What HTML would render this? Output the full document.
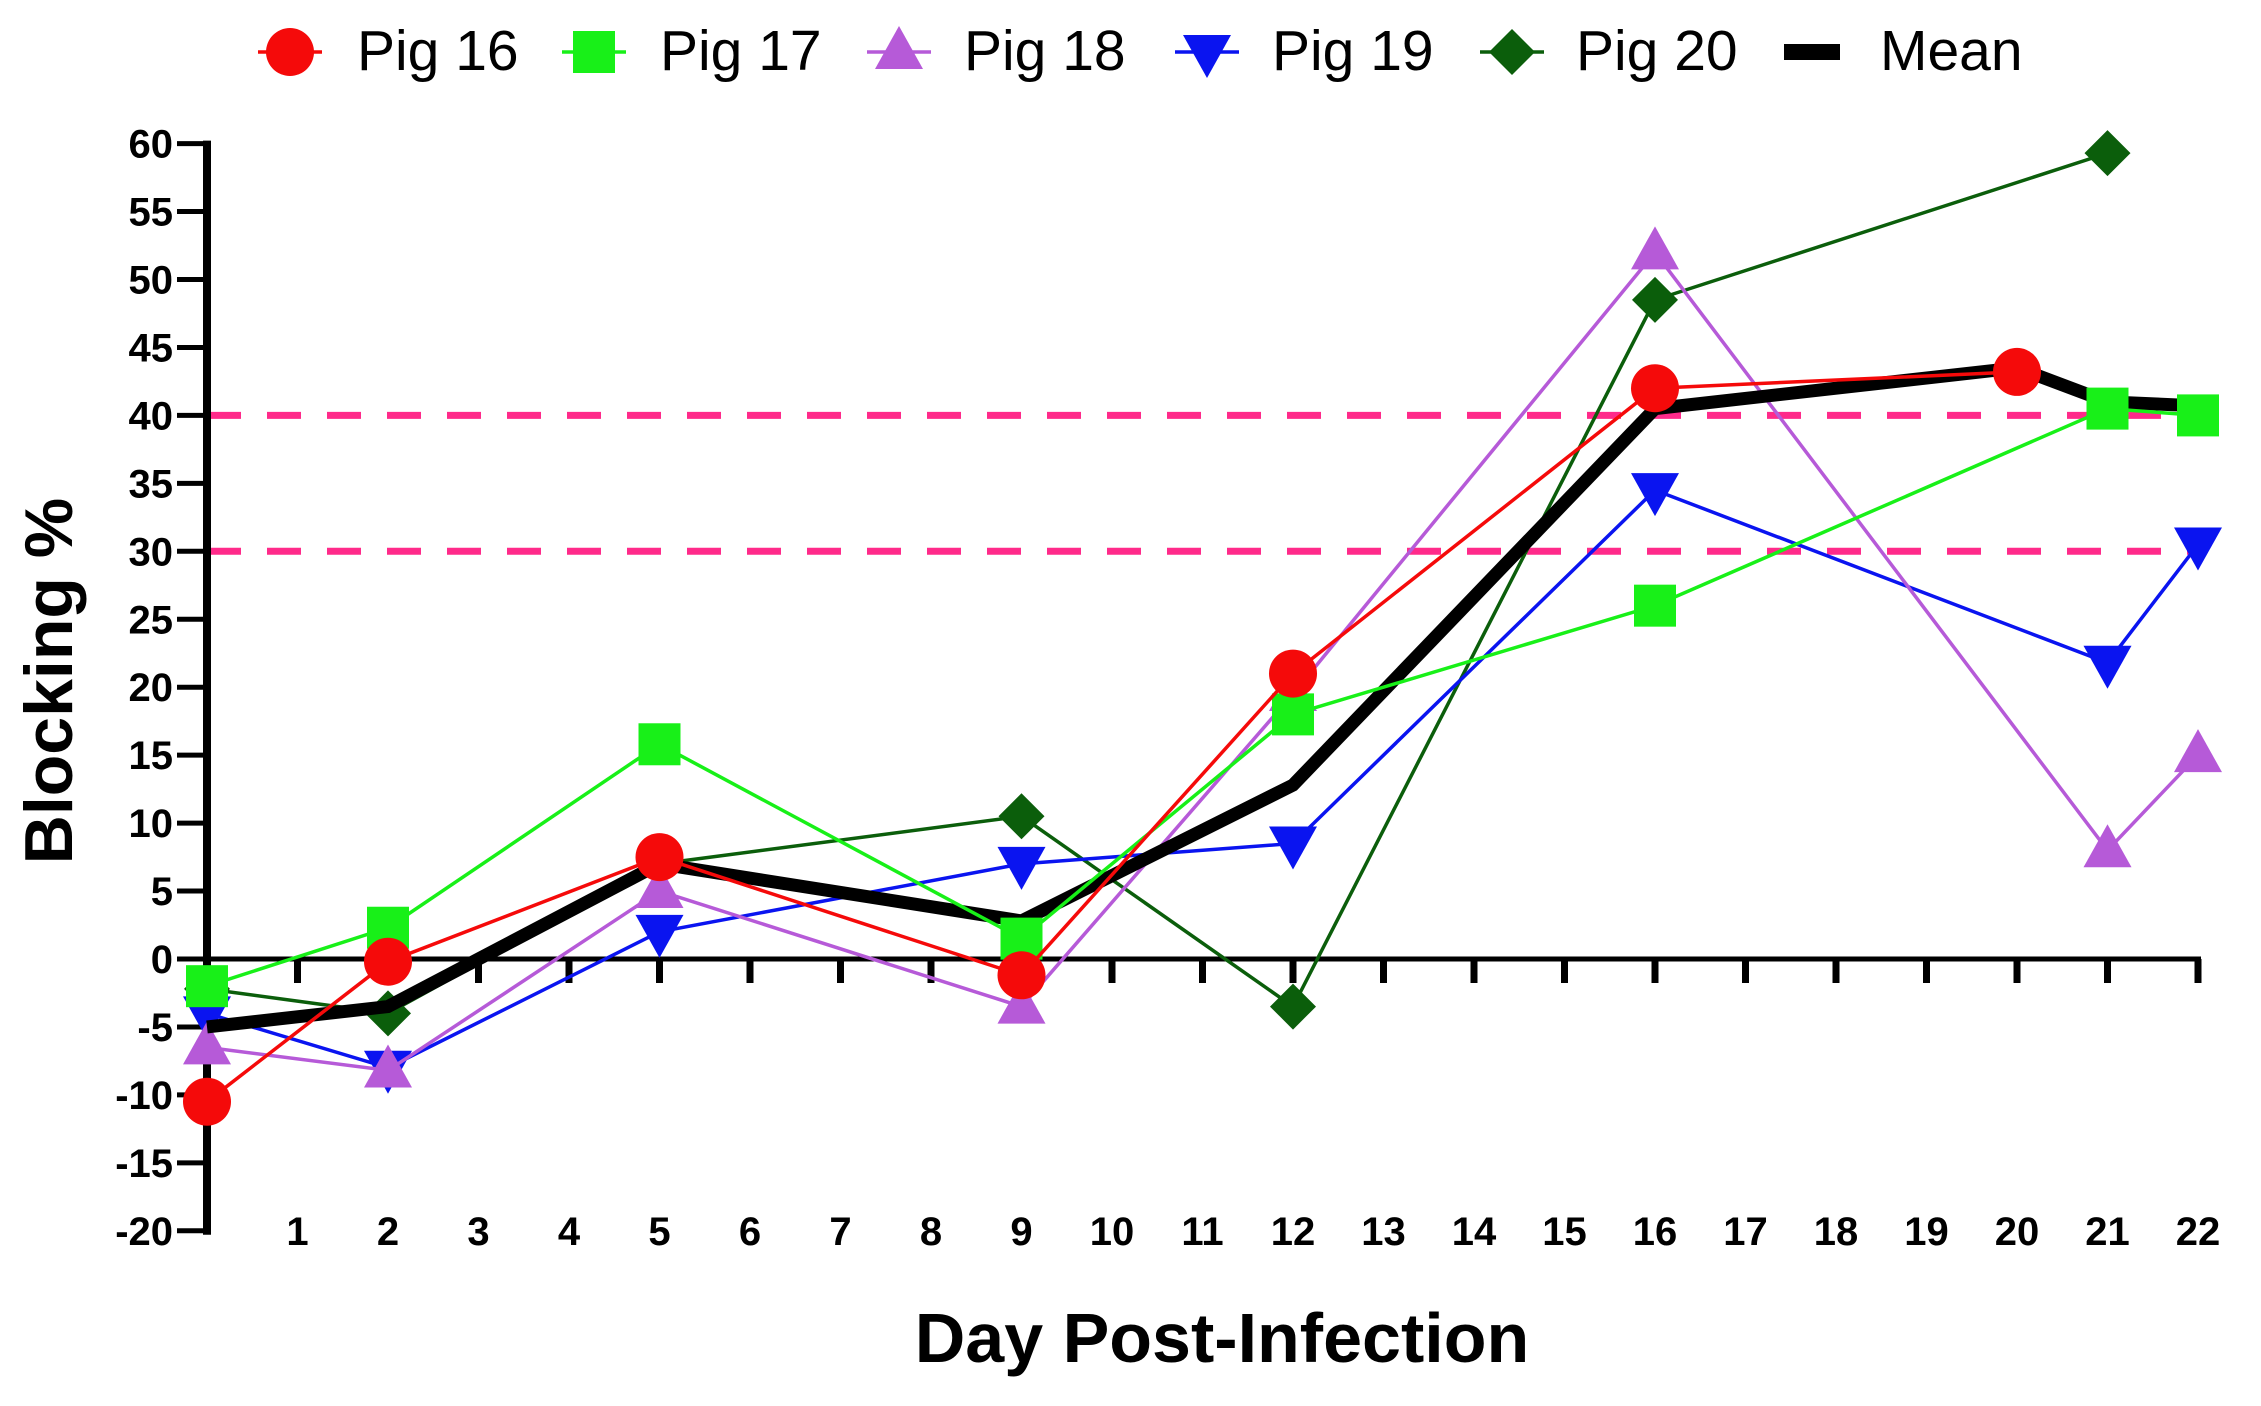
<!DOCTYPE html>
<html><head><meta charset="utf-8"><style>
html,body{margin:0;padding:0;background:#fff;}
svg{display:block;font-family:"Liberation Sans",Arial,sans-serif;}
</style></head><body>
<svg id="chart" width="2261" height="1406" viewBox="0 0 2261 1406"></svg>
<script>
const days=[0,1,2,3,4,5,6,7,8,9,10,11,12,13,14,15,16,17,18,19,20,21,22];
const yTicks=[60,55,50,45,40,35,30,25,20,15,10,5,0,-5,-10,-15,-20];
const thresholds=[40,30];
const pig16Days=[0,2,5,9,12,16,20];
const pig16Vals=[-10.5,-0.2,7.5,-1.2,21,42,43.2];
const pig17Days=[0,2,5,9,12,16,21,22];
const pig17Vals=[-2,2.3,15.8,1.5,18,26,40.5,40];
const pig18Days=[0,2,5,9,12,16,21,22];
const pig18Vals=[-6.5,-8.2,5,-3.5,19.5,52,8,15];
const pig19Days=[0,2,5,9,12,16,21,22];
const pig19Vals=[-4,-8,2,7,8.5,34.5,21.8,30.5];
const pig20Days=[0,2,5,9,12,16,21];
const pig20Vals=[-2.2,-4,7,10.5,-3.5,48.5,59.3];
const meanDays=[0,2,5,9,12,16,20,21,22];
const meanVals=[-5,-3.5,7,2.8,12.8,40.5,43.5,41,40.7];

const svg=document.getElementById('chart');
const NS='http://www.w3.org/2000/svg';
const X0=207,DX=90.5,Y0=959,DY=13.59;
const xs=d=>X0+d*DX;
const ys=v=>Y0-v*DY;
function mk(tag,attrs,parent){const e=document.createElementNS(NS,tag);for(const k in attrs)e.setAttribute(k,attrs[k]);(parent||svg).appendChild(e);return e;}

thresholds.forEach(t=>{
  const l=mk('line',{x1:X0,x2:xs(22),y1:ys(t),y2:ys(t),stroke:'#ff2a8a','stroke-width':7,'stroke-dasharray':'34 26'});
  
  
});

const ya=mk('line',{x1:X0,x2:X0,y1:ys(60)-3,y2:ys(-20)+4,stroke:'#000','stroke-width':8});


yTicks.forEach(v=>{
  const t=mk('line',{x1:X0-30,x2:X0,y1:ys(v),y2:ys(v),stroke:'#000','stroke-width':5});
  
  
  const tx=mk('text',{x:X0-34,y:ys(v)+14,'text-anchor':'end','font-size':40,'font-weight':'bold',fill:'#000'});
  tx.textContent=v;
  
  
});
const xa=mk('line',{x1:X0,x2:xs(22)+3,y1:ys(0),y2:ys(0),stroke:'#000','stroke-width':5});


days.forEach(d=>{
  if(d===0)return;
  const t=mk('line',{x1:xs(d),x2:xs(d),y1:ys(0),y2:ys(0)+24,stroke:'#000','stroke-width':7});
  
  
  const tx=mk('text',{x:xs(d),y:1245,'text-anchor':'middle','font-size':40,'font-weight':'bold',fill:'#000'});
  tx.textContent=d;
  
  
});

function marker(shape,cx,cy,color,g){
  let e;
  if(shape==='circle')e=mk('circle',{cx:cx,cy:cy,r:24,fill:color},g);
  else if(shape==='square')e=mk('rect',{x:cx-21,y:cy-21,width:42,height:42,fill:color},g);
  else if(shape==='up')e=mk('polygon',{points:`${cx},${cy-26} ${cx+24},${cy+17} ${cx-24},${cy+17}`,fill:color},g);
  else if(shape==='down')e=mk('polygon',{points:`${cx},${cy+26} ${cx+24},${cy-17} ${cx-24},${cy-17}`,fill:color},g);
  else if(shape==='diamond')e=mk('polygon',{points:`${cx},${cy-23} ${cx+23},${cy} ${cx},${cy+23} ${cx-23},${cy}`,fill:color},g);
  else if(shape==='bar')e=mk('rect',{x:cx-22,y:cy-8,width:44,height:16,fill:color},g);
  return e;
}
function series(name,dArr,vArr,color,shape,width,markers){
  const g=mk('g',{});
  
  
  const p=mk('polyline',{points:dArr.map((d,i)=>xs(d)+','+ys(vArr[i])).join(' '),fill:'none',stroke:color,'stroke-width':width,'stroke-linejoin':'miter'},g);
  
  
  if(markers)dArr.forEach((d,i)=>{
    const m=marker(shape,xs(d),ys(vArr[i]),color,g);
    
    
  });
}
series('pig-20',pig20Days,pig20Vals,'#0b5e0b','diamond',3.5,true);
series('pig-19',pig19Days,pig19Vals,'#0a14f0','down',3.5,true);
series('pig-18',pig18Days,pig18Vals,'#b65ad8','up',3.5,true);
series('mean',meanDays,meanVals,'#000','bar',13,false);
series('pig-17',pig17Days,pig17Vals,'#18f018','square',3.5,true);
series('pig-16',pig16Days,pig16Vals,'#f50a0a','circle',3.5,true);

const legend=[['Pig 16','#f50a0a','circle',290,357],['Pig 17','#18f018','square',594,660],['Pig 18','#b65ad8','up',899,964],['Pig 19','#0a14f0','down',1207,1272],['Pig 20','#0b5e0b','diamond',1512,1576],['Mean','#000','bar',1812,1880]];
legend.forEach(l=>{
  const g=mk('g',{});
  
  
  if(l[2]!=='bar')mk('line',{x1:l[3]-32,x2:l[3]+32,y1:52,y2:52,stroke:l[1],'stroke-width':3.5},g);
  else mk('rect',{x:l[3]-28,y:44,width:56,height:16,fill:'#000'},g);
  if(l[2]!=='bar')marker(l[2],l[3],52,l[1],g);
  const t=mk('text',{x:l[4],y:70,'font-size':57,fill:'#000'},g);
  t.textContent=l[0];
});

const yt=mk('text',{x:0,y:0,transform:'translate(72,681) rotate(-90)','text-anchor':'middle','font-size':68,'font-weight':'bold',fill:'#000'});
yt.textContent='Blocking %';


const xt=mk('text',{x:1222,y:1362,'text-anchor':'middle','font-size':70,'font-weight':'bold',fill:'#000'});
xt.textContent='Day Post-Infection';


</script>
</body></html>
